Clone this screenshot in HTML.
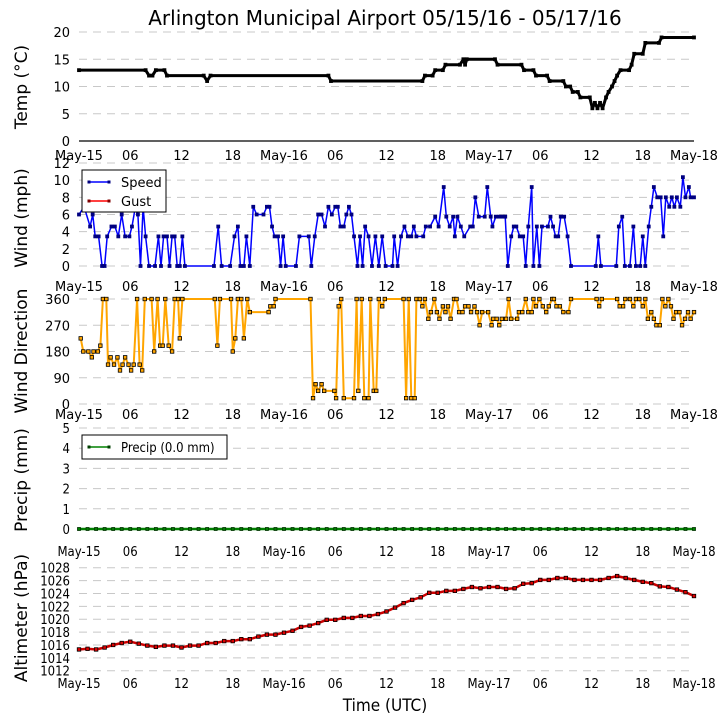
<!DOCTYPE html>
<html><head><meta charset="utf-8"><style>
html,body{margin:0;padding:0;background:#fff;}
svg{display:block;font-family:"DejaVu Sans","Liberation Sans",sans-serif;}
</style></head><body>
<svg id="chart" width="727" height="725" viewBox="0 0 727 725" xmlns="http://www.w3.org/2000/svg">
<text x="385" y="25" font-size="20" text-anchor="middle">Arlington Municipal Airport 05/15/16 - 05/17/16</text>
<text x="385" y="711" font-size="17" text-anchor="middle" font-family="DejaVu Sans Condensed, DejaVu Sans, sans-serif">Time (UTC)</text>
</svg>
<script>
// ---- data ----
const xTickLabels = ["May-15","06","12","18","May-16","06","12","18","May-17","06","12","18","May-18"];
const tempHours = [0,7.8,8.2,8.6,9.0,10.0,10.3,14.6,15.0,15.4,29.2,29.5,40.2,40.5,41.4,41.7,42.6,42.9,44.6,45.0,45.2,45.4,48.7,49.0,51.8,52.1,53.2,53.5,54.8,55.1,56.7,57.0,57.5,57.8,58.4,58.7,59.8,60.1,60.4,60.7,61.0,61.3,61.7,62.0,62.4,62.7,63.0,63.4,64.4,64.7,65.0,66.0,66.3,67.9,68.2,72];
const tempValues = [13,13,12,12,13,13,12,12,11,12,12,11,11,12,12,13,13,14,14,15,14,15,15,14,14,13,13,12,12,11,11,10,10,9,9,8,8,6,7,6,7,6,8,9,10,11,12,13,13,14,16,16,18,18,19,19];
const windTimes = [0,0.6,1.3,1.6,1.9,2.3,2.7,3.0,3.3,3.8,4.2,4.6,5.0,5.4,5.9,6.2,6.6,6.9,7.2,7.5,7.8,8.2,8.9,9.3,9.6,9.9,10.3,10.6,10.9,11.2,11.5,11.8,12.1,12.4,15.8,16.3,16.7,17.7,18.2,18.6,18.9,19.3,19.6,20.0,20.4,20.8,21.6,22.0,22.3,22.6,22.9,23.3,23.6,23.9,24.2,25.4,25.8,26.9,27.2,27.6,28.0,28.4,28.8,29.2,29.6,30.0,30.3,30.6,31.0,31.3,31.6,31.9,32.2,32.6,32.9,33.2,33.5,33.9,34.3,34.7,35.1,35.5,35.9,36.7,36.9,37.3,37.7,38.1,38.5,38.9,39.2,39.5,40.3,40.6,41.1,41.7,42.1,42.7,43.0,43.4,43.8,44.0,44.3,44.7,45.1,45.8,46.1,46.4,46.8,47.5,47.8,48.2,48.4,48.8,49.2,49.6,49.9,50.2,50.6,50.9,51.2,51.6,52.0,52.3,52.6,53.0,53.2,53.6,53.9,54.2,54.9,55.2,55.5,55.8,56.1,56.4,56.8,57.2,57.6,60.5,60.8,61.1,62.9,63.2,63.6,63.9,64.5,64.9,65.2,65.7,66.0,66.3,66.7,67.0,67.3,67.7,68.1,68.4,68.7,69.1,69.4,69.7,70.0,70.4,70.7,71.0,71.4,71.6,72];
const windSpeeds = [6,6.9,4.6,6,3.45,3.45,0,0,3.45,4.6,4.6,3.45,6,3.45,3.45,4.6,6.9,6,0,6.9,3.45,0,0,3.45,0,3.45,3.45,0,3.45,3.45,0,0,3.45,0,0,4.6,0,0,3.45,4.6,0,0,3.45,0,6.9,6,6,6.9,6.9,4.6,3.45,3.45,0,3.45,0,0,3.45,3.45,0,3.45,6,6,4.6,6.9,6,6.9,6.9,4.6,4.6,6,6.9,6,3.45,0,3.45,0,4.6,3.45,0,3.45,0,3.45,0,0,3.45,0,3.45,4.6,3.45,3.45,4.6,3.45,3.45,4.6,4.6,5.75,4.6,9.2,5.75,4.6,5.75,3.45,5.75,4.6,3.45,4.6,4.6,8,5.75,5.75,9.2,5.75,4.6,5.75,5.75,5.75,5.75,0,3.45,4.6,4.6,3.45,3.45,0,4.6,9.2,0,4.6,0,4.6,4.6,5.75,4.6,3.45,3.45,5.75,5.75,3.45,0,0,3.45,0,0,4.6,5.75,0,0,4.6,0,0,3.45,0,4.6,6.9,9.2,8,8,3.45,8,6.9,8,6.9,8,6.9,10.35,8,9.2,8,8];
const dirTimes = [0.2,0.5,1.1,1.5,1.7,2.2,2.5,2.8,3.2,3.4,3.7,4.1,4.5,4.8,5.1,5.4,5.8,6.1,6.4,6.8,7.1,7.4,7.7,8.5,8.8,9.2,9.5,9.8,10.1,10.5,10.9,11.2,11.6,11.8,12.1,15.9,16.2,16.5,17.8,18.0,18.3,18.6,19.0,19.3,19.7,20.0,22.2,22.4,22.8,23.0,27.1,27.4,27.7,28.0,28.4,28.7,29.9,30.1,30.4,30.7,31.0,32.2,32.5,32.7,33.1,33.4,33.9,34.1,34.5,34.8,35.1,35.5,35.8,38.0,38.3,38.6,38.9,39.3,39.5,39.9,40.2,40.5,40.9,41.2,41.6,41.9,42.2,42.6,42.9,43.2,43.5,43.9,44.2,44.5,44.9,45.2,45.6,45.9,46.3,46.6,46.9,47.2,47.9,48.3,48.5,48.9,49.2,49.5,50.0,50.3,50.6,51.3,51.5,51.9,52.3,52.6,53.0,53.2,53.5,53.9,54.3,54.7,55.0,55.4,55.6,55.9,56.3,56.7,57.3,57.6,60.6,60.9,61.2,63.0,63.3,63.7,63.95,64.5,64.9,65.2,65.6,66.0,66.3,66.6,67.0,67.3,67.6,68.0,68.3,68.65,69.0,69.3,69.6,69.9,70.3,70.6,70.95,71.3,71.6,72];
const dirValues = [225,180,180,160,180,180,200,360,360,135,160,135,160,115,135,160,135,115,135,360,135,115,360,360,180,360,200,200,360,200,180,360,360,225,360,360,200,360,360,180,225,360,360,225,360,315,315,335,335,360,360,20,68,45,68,45,45,20,335,360,20,20,360,45,360,20,20,360,45,45,360,335,360,360,20,360,20,20,360,360,335,360,292,315,360,315,292,335,315,335,292,360,360,315,315,335,335,315,335,315,270,315,315,270,292,292,270,292,292,360,292,292,315,315,360,315,315,360,335,360,335,315,335,360,360,335,335,315,315,360,360,335,360,360,335,335,360,360,335,360,360,335,360,292,315,292,270,270,360,335,360,335,292,315,315,270,292,315,292,315];
const hourly = [0,1,2,3,4,5,6,7,8,9,10,11,12,13,14,15,16,17,18,19,20,21,22,23,24,25,26,27,28,29,30,31,32,33,34,35,36,37,38,39,40,41,42,43,44,45,46,47,48,49,50,51,52,53,54,55,56,57,58,59,60,61,62,63,64,65,66,67,68,69,70,71,72];
const precipValues = [0,0,0,0,0,0,0,0,0,0,0,0,0,0,0,0,0,0,0,0,0,0,0,0,0,0,0,0,0,0,0,0,0,0,0,0,0,0,0,0,0,0,0,0,0,0,0,0,0,0,0,0,0,0,0,0,0,0,0,0,0,0,0,0,0,0,0,0,0,0,0,0,0];
const altValues = [1015.3,1015.4,1015.3,1015.6,1016.0,1016.3,1016.5,1016.2,1015.9,1015.7,1015.9,1015.9,1015.6,1015.9,1015.9,1016.3,1016.3,1016.6,1016.6,1016.9,1016.9,1017.3,1017.6,1017.6,1017.9,1018.2,1018.8,1019,1019.4,1019.9,1019.9,1020.2,1020.2,1020.5,1020.5,1020.8,1021.2,1021.8,1022.5,1023,1023.4,1024.1,1024.1,1024.4,1024.4,1024.7,1025,1024.8,1025,1025,1024.7,1024.8,1025.5,1025.6,1026.1,1026.1,1026.4,1026.4,1026.1,1026.1,1026.1,1026.1,1026.4,1026.7,1026.4,1026.1,1025.8,1025.6,1025.1,1025,1024.6,1024.2,1023.6];
const tempTicks = [0,5,10,15,20];
const windTicks = [0,2,4,6,8,10,12];
const dirTicks = [0,90,180,270,360];
const precipTicks = [0,1,2,3,4,5];
const altTicks = [1012,1014,1016,1018,1020,1022,1024,1026,1028];

// ---- drawing ----
const svg = document.getElementById('chart');
const NS = 'http://www.w3.org/2000/svg';
const X0 = 79, X1 = 694, HMAX = 72;
function xs(h){ return X0 + (X1 - X0) * h / HMAX; }
function mk(tag, attrs, parent){
  const e = document.createElementNS(NS, tag);
  for (const k in attrs) e.setAttribute(k, attrs[k]);
  (parent || svg).appendChild(e);
  return e;
}
function makeScale(vmin, vmax, pBot, pTop){ return v => pBot - (v - vmin) / (vmax - vmin) * (pBot - pTop); }

function panel(name, ticks, ys, xlabY, ylabel, ylabY, condensed, solidZero){
  const g = mk('g', {});
  
  
  const ff = condensed ? '"DejaVu Sans Condensed","DejaVu Sans",sans-serif' : '"DejaVu Sans",sans-serif';
  ticks.forEach((t, i) => {
    const y = ys(t);
    const solid = solidZero && i === 0;
    const ln = mk('line', {x1:X0, x2:X1, y1:y, y2:y, stroke: solid ? '#000' : '#c8c8c8', 'stroke-width': solid ? 1.2 : 1, 'stroke-dasharray': solid ? 'none' : '8,6'}, g);
    
    
    const tx = mk('text', {x:70, y:y+5, 'font-size':13, 'text-anchor':'end', 'font-family':ff}, g);
    tx.textContent = t;
    
    
  });
  xTickLabels.forEach((l, i) => {
    const tx = mk('text', {x:xs(i*6), y:xlabY, 'font-size':13, 'text-anchor':'middle', 'font-family':ff}, g);
    tx.textContent = l;
    
    
  });
  const yl = mk('text', {x:0, y:0, 'font-size':17, 'text-anchor':'middle', transform:`translate(27,${ylabY}) rotate(-90)`}, g);
  yl.textContent = ylabel;
  
  
  return g;
}
function series(name, times, vals, ys, color, lw, mFill, mStroke, msz){
  const g = mk('g', {});
  
  
  const pts = times.map((t, i) => xs(t).toFixed(1) + ',' + ys(vals[i]).toFixed(1)).join(' ');
  const pl = mk('polyline', {points:pts, fill:'none', stroke:color, 'stroke-width':lw, 'stroke-linejoin':'round'}, g);
  
  
  times.forEach((t, i) => {
    const r = mk('rect', {x:xs(t)-msz/2, y:ys(vals[i])-msz/2, width:msz, height:msz, fill:mFill, stroke:mStroke, 'stroke-width':0.8}, g);
    
    
  });
}

const yT = makeScale(0, 20, 141, 32);
panel('temp', tempTicks, yT, 160, 'Temp (\u00B0C)', 87, false, true);
series('temp', tempHours, tempValues, yT, '#000', 3, '#000', '#000', 3);

const yW = makeScale(0, 12, 266, 163);
panel('wind', windTicks, yW, 291, 'Wind (mph)', 218, false, false);
series('wind-speed', windTimes, windSpeeds, yW, '#0000ff', 1.5, '#000080', '#000080', 3);

const yD = makeScale(0, 360, 404, 299);
panel('direction', dirTicks, yD, 419, 'Wind Direction', 351, false, false);
series('wind-direction', dirTimes, dirValues, yD, '#ffa500', 2, '#ffa500', '#000', 3.5);

const yP = makeScale(0, 5, 529, 428);
panel('precip', precipTicks, yP, 556, 'Precip (mm)', 480, true, false);
series('precip', hourly, precipValues, yP, '#008000', 2.5, '#008000', '#003000', 3);

const yA = makeScale(1012, 1028, 670.7, 567.7);
panel('altimeter', altTicks, yA, 688, 'Altimeter (hPa)', 618, true, false);
series('altimeter', hourly, altValues, yA, '#cc0000', 2.5, '#dd0000', '#000', 3.5);

function legend(name, x, y, w, h, entries, condensed){
  const g = mk('g', {});
  
  
  mk('rect', {x:x, y:y, width:w, height:h, fill:'#fff', stroke:'#000', 'stroke-width':1}, g);
  entries.forEach((e, i) => {
    const ly = y + 12 + i * 19;
    const eg = mk('g', {}, g);
    
    
    mk('line', {x1:x+7, x2:x+27, y1:ly, y2:ly, stroke:e[1], 'stroke-width':1.5}, eg);
    mk('rect', {x:x+5.5, y:ly-1.5, width:3, height:3, fill:e[2]}, eg);
    mk('rect', {x:x+25.5, y:ly-1.5, width:3, height:3, fill:e[2]}, eg);
    const t = mk('text', {x:x+39, y:ly+5, 'font-size':13, 'font-family': condensed ? '"DejaVu Sans Condensed","DejaVu Sans",sans-serif' : '"DejaVu Sans",sans-serif'}, eg);
    t.textContent = e[0];
  });
}
legend('wind-legend', 82, 170, 84, 42, [['Speed','#0000ff','#000080'],['Gust','#ff0000','#800000']], false);
legend('precip-legend', 82, 435, 145, 24, [['Precip (0.0 mm)','#008000','#004000']], true);
</script>
</body></html>
